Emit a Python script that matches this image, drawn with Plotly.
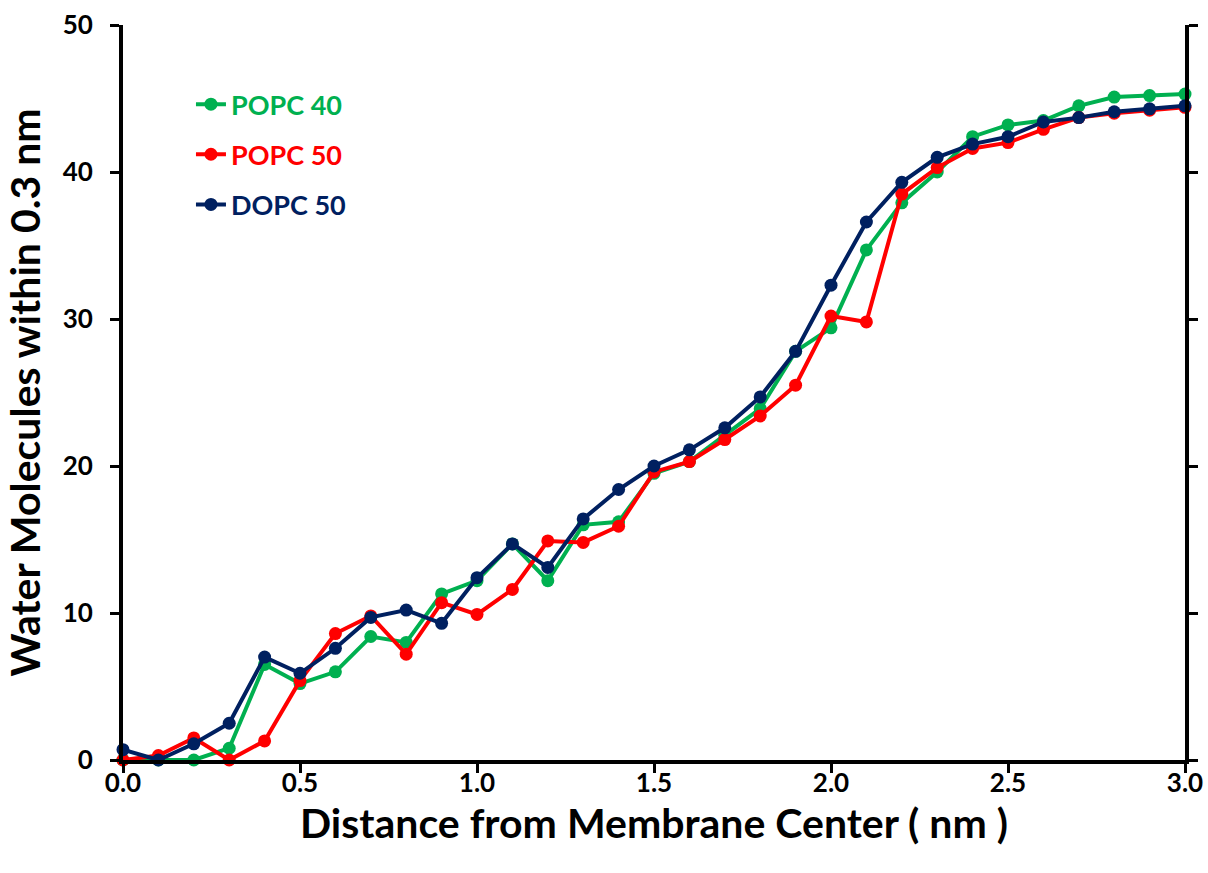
import plotly.graph_objects as go

# Distance from the membrane center (nm)
distance = [round(0.1 * i, 1) for i in range(31)]

popc_40 = [0.0, 0.0, 0.0, 0.8, 6.5, 5.2, 6.0, 8.4, 8.0, 11.3, 12.2, 14.7, 12.2, 16.0, 16.2,
           19.5, 20.3, 22.1, 23.9, 27.8, 29.4, 34.7, 37.9, 40.0, 42.4, 43.2, 43.5, 44.5,
           45.1, 45.2, 45.3]
popc_50 = [0.0, 0.3, 1.5, 0.0, 1.3, 5.4, 8.6, 9.8, 7.2, 10.7, 9.9, 11.6, 14.9, 14.8, 15.9,
           19.6, 20.3, 21.8, 23.4, 25.5, 30.2, 29.8, 38.5, 40.3, 41.6, 42.0, 42.9, 43.7,
           44.0, 44.2, 44.4]
dopc_50 = [0.7, 0.0, 1.1, 2.5, 7.0, 5.9, 7.6, 9.7, 10.2, 9.3, 12.4, 14.7, 13.1, 16.4, 18.4,
           20.0, 21.1, 22.6, 24.7, 27.8, 32.3, 36.6, 39.3, 41.0, 41.9, 42.4, 43.4, 43.7,
           44.1, 44.3, 44.5]

series = [
    ("POPC 40", popc_40, "#00B050"),
    ("POPC 50", popc_50, "#FF0000"),
    ("DOPC 50", dopc_50, "#002060"),
]

x_ticks = [0.0, 0.5, 1.0, 1.5, 2.0, 2.5, 3.0]
y_ticks = [0, 10, 20, 30, 40, 50]

fig = go.Figure()
for i, (name, values, color) in enumerate(series):
    fig.add_trace(go.Scatter(
        x=distance, y=values, mode="lines+markers",
        # legend label drawn in the series colour
        name=f"<span style='color:{color}'>{name}</span>",
        line=dict(color=color, width=4),
        marker=dict(color=color, size=13),
        legendgroup=f"g{i}",
        cliponaxis=False,
    ))

tick_font = dict(family="Lato", size=26, color="black", weight="bold")
title_font = dict(family="Lato", size=41, color="black", weight="bold")

fig.update_layout(
    width=1208, height=873,
    margin=dict(l=123, r=23, t=25, b=113),
    paper_bgcolor="white", plot_bgcolor="white",
    showlegend=True,
    legend=dict(
        x=0.064, y=0.925, xanchor="left", yanchor="top",
        bgcolor="rgba(0,0,0,0)", borderwidth=0,
        tracegroupgap=12,
        font=dict(family="Lato", size=27, weight="bold"),
        itemwidth=30,
    ),
    xaxis=dict(
        range=[0, 3.0], tickvals=x_ticks, ticktext=[f"{v:.1f}" for v in x_ticks],
        showgrid=False, zeroline=False, automargin=False,
        showline=True, linecolor="black", linewidth=4,
        ticks="outside", ticklen=9, tickwidth=3, tickcolor="black",
        tickfont=tick_font, ticklabelstandoff=-12,
        title=dict(text="Distance from Membrane Center ( nm )", font=title_font, standoff=10),
    ),
    yaxis=dict(
        range=[0, 50], tickvals=y_ticks,
        showgrid=False, zeroline=False, automargin=False,
        showline=True, linecolor="black", linewidth=4, mirror="ticks",
        ticks="outside", ticklen=9, tickwidth=3, tickcolor="black",
        tickfont=tick_font, ticklabelstandoff=12,
        title=dict(text="Water Molecules within 0.3 nm", font=title_font, standoff=14),
    ),
)

fig.write_html("out.html")
